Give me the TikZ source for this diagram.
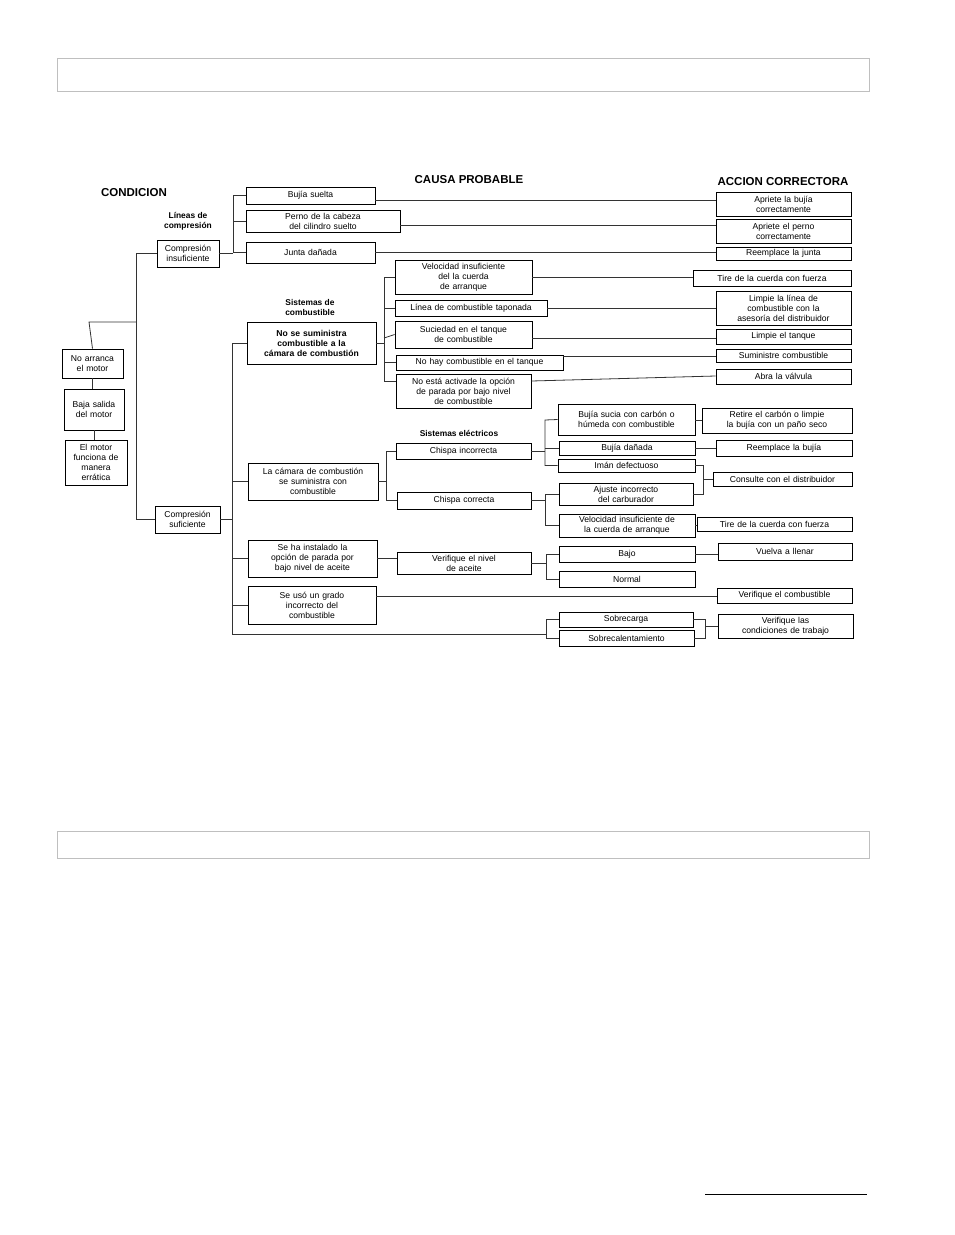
\documentclass[tikz,border=0pt]{standalone}
\usepackage{fontspec}
\setmainfont{Liberation Sans}
\begin{document}
\begin{tikzpicture}[x=1pt,y=-1pt,line width=0.8pt,
  box/.style={draw,inner sep=0pt,align=center,font=\fontsize{8.6}{10}\selectfont},
  hdr/.style={font=\bfseries\fontsize{11.5}{13}\selectfont},
  sub/.style={font=\bfseries\fontsize{8.4}{10}\selectfont,align=center},
  ln/.style={draw=black!80}]
\useasboundingbox (0,0) rectangle (954,1235);
\newcommand\bx[6]{\node[box,minimum width={(#4-#2)*1pt},minimum height={(#5-#3)*1pt},text width={(#4-#2-2)*1pt}] (#1) at ({(#2+#4)/2},{(#3+#5)/2}) {#6};}
% headers
\draw[black!25] (57,58) rectangle (869,91);
\draw[black!25] (57,831) rectangle (869,858);
\draw (705,1194) -- (867,1194);
\node[hdr] (tc) at (134,193) {CONDICION};
\node[hdr] (tp) at (469,180) {CAUSA PROBABLE};
\node[hdr] (ta) at (783,182) {ACCION CORRECTORA};
\node[sub] (s1) at (188,221) {Líneas de\\compresión};
\node[sub] (s2) at (310,307) {Sistemas de\\combustible};
\node[sub] (s3) at (459,433) {Sistemas eléctricos};
% left
\bx{na}{62}{349}{123}{378}{No arranca\\el motor}
\bx{bs}{64}{389}{124}{430}{Baja salida\\del motor\\[9pt]}
\bx{me}{65}{440}{127}{485}{El motor\\funciona de\\manera\\errática}
\bx{ci}{157}{240}{219}{267}{Compresión\\insuficiente}
\bx{cs}{155}{506}{220}{533}{Compresión\\suficiente}
% col1
\bx{bsu}{246}{187}{375}{204}{Bujía suelta}
\bx{pe}{246}{210}{400}{232}{Perno de la cabeza\\del cilindro suelto}
\bx{ju}{246}{242}{375}{263}{Junta dañada}
\node[box,font=\bfseries\fontsize{8.6}{10}\selectfont,minimum width=129pt,minimum height=42pt,text width=127pt] (ns) at (311.5,343) {No se suministra\\combustible a la\\cámara de combustión};
\bx{ca}{248}{463}{378}{500}{La cámara de combustión\\se suministra con\\combustible}
\bx{sh}{248}{540}{377}{577}{Se ha instalado la\\opción de parada por\\bajo nivel de aceite}
\bx{su}{248}{586}{376}{624}{Se usó un grado\\incorrecto del\\combustible\\[6pt]}
% col2
\bx{ve}{395}{260}{532}{294}{Velocidad insuficiente\\del la cuerda\\de arranque}
\bx{li}{395}{300}{547}{316}{Línea de combustible taponada}
\bx{sc}{395}{321}{532}{348}{Suciedad en el tanque\\de combustible}
\bx{nh}{396}{355}{563}{370}{No hay combustible en el tanque}
\bx{ne}{396}{374}{531}{408}{No está activade la opción\\de parada por bajo nivel\\de combustible}
\bx{ci2}{396}{443}{531}{459}{Chispa incorrecta}
\bx{cc}{397}{492}{531}{509}{Chispa correcta}
\bx{vn}{397}{552}{531}{574}{Verifique el nivel\\de aceite}
% col3
\bx{bj}{558}{404}{695}{435}{Bujía sucia con carbón o\\húmeda con combustible\\[5pt]}
\bx{bd}{559}{441}{695}{455}{Bujía dañada}
\bx{im}{558}{459}{695}{472}{Imán defectuoso}
\bx{aj}{559}{483}{693}{505}{Ajuste incorrecto\\del carburador}
\bx{vi}{559}{514}{695}{537}{Velocidad insuficiente de\\la cuerda de arranque}
\bx{ba}{559}{546}{695}{562}{Bajo}
\bx{no}{559}{571}{695}{587}{Normal}
\bx{sb}{559}{612}{693}{627}{Sobrecarga}
\bx{sl}{559}{630}{694}{646}{Sobrecalentamiento}
% actions
\bx{a1}{716}{192}{851}{216}{Apriete la bujía\\correctamente}
\bx{a2}{716}{219}{851}{243}{Apriete el perno\\correctamente}
\bx{a3}{716}{247}{851}{260}{Reemplace la junta}
\bx{a4}{693}{270}{851}{286}{Tire de la cuerda con fuerza}
\bx{a5}{716}{291}{851}{325}{Limpie la línea de\\combustible con la\\asesoría del distribuidor}
\bx{a6}{716}{329}{851}{344}{Limpie el tanque}
\bx{a7}{716}{349}{851}{362}{Suministre combustible}
\bx{a8}{716}{369}{851}{384}{Abra la válvula}
\bx{a9}{702}{408}{852}{433}{Retire el carbón o limpie\\la bujía con un paño seco}
\bx{a10}{716}{440}{852}{456}{Reemplace la bujía}
\bx{a11}{713}{472}{852}{486}{Consulte con el distribuidor}
\bx{a12}{697}{517}{852}{531}{Tire de la cuerda con fuerza}
\bx{a13}{718}{543}{852}{560}{Vuelva a llenar\\[4pt]}
\bx{a14}{717}{588}{852}{603}{Verifique el combustible}
\bx{a15}{718}{614}{853}{638}{Verifique las\\condiciones de trabajo}
% connectors
\coordinate (t0) at (89,322);
\draw[ln] (na.north) -- (t0) -- (136,322);
\draw[ln] (na.south) -- (bs.north-|na.south);
\draw[ln] (bs.south) -- (me.north-|bs.south);
\draw[ln] (ci.west) -- (136,253.5) -- (136,519.5) -- (cs.west);
\draw[ln] (ci.east) -- (233,253.5);
\draw[ln] (bsu.west) -- (233,195.5) -- (233,252.5) -- (ju.west);
\draw[ln] (pe.west) -- (233,221);
\draw[ln] (bsu.east|-0,200) -- (a1.west|-0,200);
\draw[ln] (pe.east|-0,225) -- (a2.west|-0,225);
\draw[ln] (ju.east) -- (a3.west|-ju.east);
\draw[ln] (cs.east) -- (232,519.5);
\draw[ln] (ns.west) -- (232,343) -- (232,634) -- (546,634);
\draw[ln] (ca.west) -- (232,481.5);
\draw[ln] (sh.west) -- (232,558.5);
\draw[ln] (su.west) -- (232,605);
\draw[ln] (ns.east) -- (384,343);
\draw[ln] (ve.west) -- (384,277) -- (384,381) -- (ne.west|-0,381);
\draw[ln] (li.west) -- (384,308);
\draw[ln] (sc.west) -- (384,338);
\draw[ln] (nh.west) -- (384,362.5);
\draw[ln] (ve.east) -- (a4.west|-ve.east);
\draw[ln] (li.east) -- (a5.west|-li.east);
\draw[ln] (sc.east|-0,338) -- (a6.west|-0,338);
\draw[ln] (nh.east|-0,356) -- (a7.west|-0,356);
\draw[ln] (ne.east|-0,381) -- (a8.west|-0,376) ;
\draw[ln] (ca.east) -- (386,481.5);
\draw[ln] (ci2.west) -- (386,451) -- (386,500.5) -- (cc.west);
\draw[ln] (ci2.east) -- (545,451);
\draw[ln] (bj.west) -- (545,420) -- (545,465.5) -- (im.west);
\draw[ln] (bd.west) -- (545,448);
\draw[ln] (bj.east|-0,420) -- (a9.west|-0,420);
\draw[ln] (bd.east) -- (a10.west|-bd.east);
\draw[ln] (im.east) -- (703,465.5) -- (703,494) -- (aj.east);
\draw[ln] (703,479) -- (a11.west);
\draw[ln] (cc.east) -- (545,500.5);
\draw[ln] (aj.west) -- (545,494) -- (545,525.5) -- (vi.west);
\draw[ln] (vi.east) -- (a12.west|-vi.east);
\draw[ln] (sh.east) -- (vn.west|-sh.east);
\draw[ln] (vn.east) -- (546,563);
\draw[ln] (ba.west) -- (546,554) -- (546,579) -- (no.west);
\draw[ln] (ba.east) -- (a13.west|-ba.east);
\draw[ln] (su.east|-0,596) -- (a14.west|-0,596);
\draw[ln] (sb.west) -- (546,619.5) -- (546,638) -- (sl.west);
\draw[ln] (sb.east) -- (705,619.5) -- (705,638) -- (sl.east);
\draw[ln] (705,626) -- (a15.west|-0,626);
\end{tikzpicture}
\end{document}
